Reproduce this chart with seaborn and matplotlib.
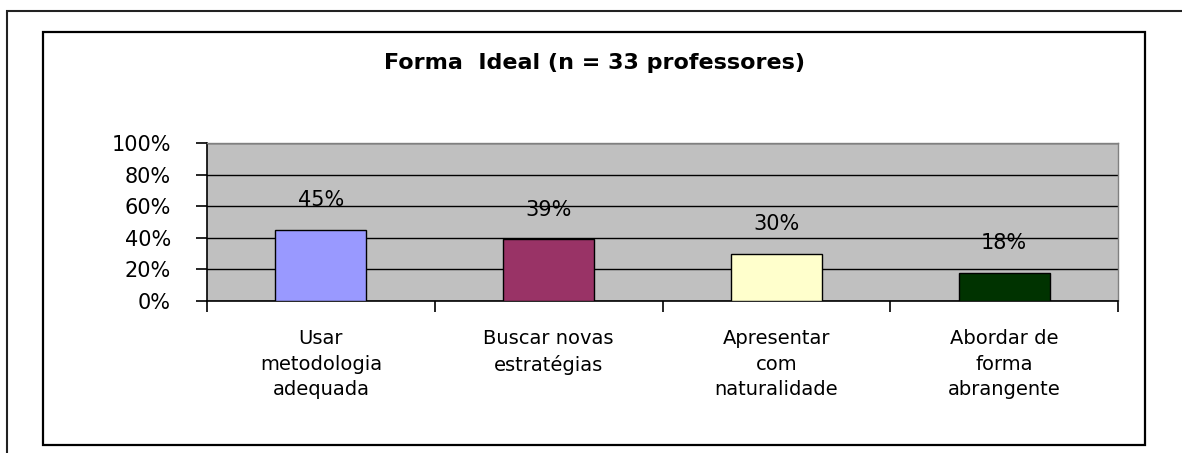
import matplotlib
matplotlib.use('Agg')
import matplotlib.pyplot as plt
import matplotlib.patches as mpatches
from matplotlib.ticker import PercentFormatter, FixedLocator
import seaborn as sns
import pandas as pd

# ─────────────────────────────────────────
# Dados
# ─────────────────────────────────────────
categorias = ['Usar\nmetodologia\nadequada', 'Buscar novas\nestratégias',
              'Apresentar\ncom\nnaturalidade', 'Abordar de\nforma\nabrangente']
valores = [0.45, 0.39, 0.30, 0.18]
rotulos = ['45%', '39%', '30%', '18%']
cores = ['#9999FF', '#993366', '#FFFFCC', '#003300']
titulo = 'Forma  Ideal (n = 33 professores)'

df = pd.DataFrame({'categoria': categorias, 'valor': valores})

sns.set_style('white')
plt.rcParams['font.family'] = ['DejaVu Sans']
plt.rcParams['text.color'] = 'black'
plt.rcParams['xtick.color'] = 'black'
plt.rcParams['ytick.color'] = 'black'

W, H = 1182, 453
fig = plt.figure(figsize=(W / 100, H / 100), dpi=100)
fig.patch.set_facecolor('white')

# bordas (página + gráfico)
fig.patches.append(mpatches.Rectangle((7 / W, -0.2), 1.2, 1.2 - 11 / H,
                                      transform=fig.transFigure, fill=False,
                                      edgecolor='#222222', linewidth=1.5))
fig.patches.append(mpatches.Rectangle((43 / W, 8 / H), (1145 - 43) / W, (445 - 32) / H,
                                      transform=fig.transFigure, fill=False,
                                      edgecolor='black', linewidth=1.6))

ax = fig.add_axes([207 / W, (H - 301) / H, (1118 - 207) / W, (301 - 143) / H])
ax.set_facecolor('#C0C0C0')

sns.barplot(data=df, x='categoria', y='valor', hue='categoria', palette=cores,
            saturation=1, legend=False, width=0.4, edgecolor='black',
            linewidth=1.0, ax=ax, zorder=3)

ax.set_ylim(0, 1)
ax.set_xlim(-0.5, len(categorias) - 0.5)
ax.yaxis.set_major_locator(FixedLocator([0, 0.2, 0.4, 0.6, 0.8, 1.0]))
ax.yaxis.set_major_formatter(PercentFormatter(1.0, decimals=0))
ax.grid(True, axis='y', color='black', linewidth=1.0, zorder=1)
ax.set_axisbelow(True)
ax.set_xlabel('')
ax.set_ylabel('')

# ticks entre as categorias
ax.xaxis.set_minor_locator(FixedLocator([i - 0.5 for i in range(len(categorias) + 1)]))
ax.tick_params(axis='x', which='major', bottom=True, length=0, pad=20,
               labelsize=14, labelcolor='black')
ax.tick_params(axis='x', which='minor', bottom=True, length=8, width=1.2,
               color='black', direction='out')
ax.tick_params(axis='y', left=True, length=8, width=1.2, color='black',
               direction='out', pad=18, labelsize=15, labelcolor='black')
for lab in ax.get_xticklabels():
    lab.set_linespacing(1.45)
    lab.set_verticalalignment('top')

for s in ['left', 'bottom']:
    ax.spines[s].set_color('black')
    ax.spines[s].set_linewidth(1.2)
for s in ['top', 'right']:
    ax.spines[s].set_color('#808080')
    ax.spines[s].set_linewidth(1.0)

for i, (v, r) in enumerate(zip(valores, rotulos)):
    ax.annotate(r, (i, v), xytext=(0, 21.5), textcoords='offset points',
                ha='center', va='center', fontsize=15, color='black', zorder=5)

fig.text(594 / W, 1 - 63 / H, titulo, ha='center', va='center',
         fontsize=16, fontweight='bold', color='black')

plt.savefig('out.png', dpi=100)
plt.close()
